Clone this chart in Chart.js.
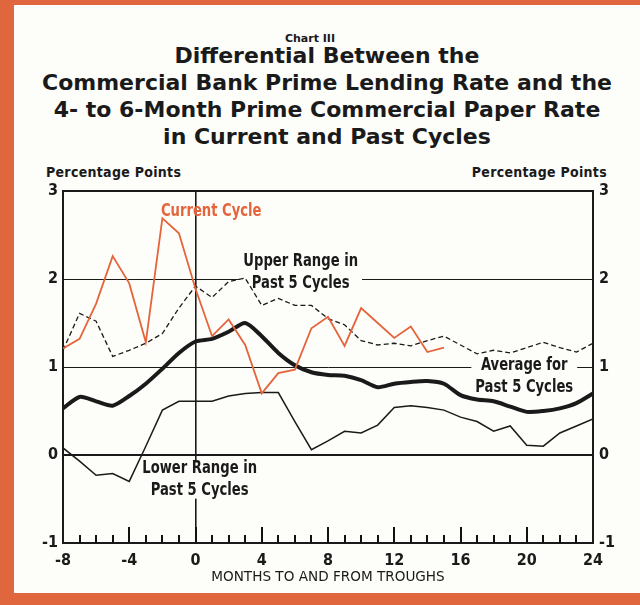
<!DOCTYPE html>
<html>
<head>
<meta charset="utf-8">
<script src="https://cdn.jsdelivr.net/npm/chart.js@4.4.0/dist/chart.umd.min.js"></script>
<style>
  html, body { margin: 0; padding: 0; }
  body { width: 640px; height: 605px; background: #e0673d; position: relative; overflow: hidden; }
  #page { position: absolute; left: 14px; top: 5px; width: 626px; height: 588px; background: #fdfdfa; }
  .t { position: absolute; left: 0; width: 654px; text-align: center; color: #1a1a1a; white-space: nowrap;
       font-family: 'DejaVu Sans', sans-serif; font-weight: bold; }
  .pp { position: absolute; top: 164px; font-family: 'DejaVu Sans Condensed', sans-serif;
        font-weight: bold; font-size: 14px; letter-spacing: 0.3px; color: #1a1a1a; }
  #wrap { position: absolute; left: 0; top: 0; width: 640px; height: 605px; }
</style>
</head>
<body>
<div id="page"></div>
<div class="t" style="top:32px;width:620px;font-size:11px;">Chart III</div>
<div class="t" style="top:42px;font-size:22px;line-height:27px;">
  Differential Between the<br>
  Commercial Bank Prime Lending Rate and the<br>
  4- to 6-Month Prime Commercial Paper Rate<br>
  in Current and Past Cycles
</div>
<div class="pp" style="left:46px;">Percentage Points</div>
<div class="pp" style="right:33px;">Percentage Points</div>
<div id="wrap"><canvas id="mycanvas" width="640" height="605"></canvas></div>
<script>
// months to and from troughs
var months = [-8,-7,-6,-5,-4,-3,-2,-1,0,1,2,3,4,5,6,7,8,9,10,11,12,13,14,15,16,17,18,19,20,21,22,23,24];
var yTicks = [-1, 0, 1, 2, 3];

// current cycle runs from -8 to 15
var currentCycle = [1.21,1.32,1.72,2.26,1.95,1.28,2.69,2.52,1.89,1.35,1.54,1.25,0.70,0.93,0.97,1.44,1.57,1.24,1.67,1.50,1.33,1.46,1.17,1.22];
var upperRange = [1.19,1.61,1.52,1.12,1.19,1.27,1.38,1.67,1.92,1.79,1.97,2.01,1.70,1.78,1.70,1.70,1.55,1.48,1.30,1.25,1.27,1.24,1.30,1.35,1.25,1.15,1.19,1.16,1.22,1.28,1.22,1.17,1.27];
var average = [0.53,0.66,0.61,0.56,0.67,0.81,0.98,1.16,1.29,1.32,1.40,1.50,1.35,1.16,1.02,0.94,0.91,0.90,0.85,0.77,0.81,0.83,0.84,0.81,0.68,0.63,0.61,0.55,0.49,0.50,0.53,0.59,0.70];
var lowerRange = [0.08,-0.07,-0.23,-0.21,-0.30,0.10,0.51,0.61,0.61,0.61,0.67,0.70,0.71,0.71,0.38,0.06,0.16,0.27,0.25,0.34,0.54,0.56,0.54,0.51,0.43,0.38,0.27,0.33,0.11,0.10,0.25,0.33,0.41];

var ink = '#1a1a1a';
var orange = '#e4653c';
var narrow = "'DejaVu Sans Condensed', sans-serif";
var squeeze = 0.86;

function pts(vals) {
  var out = [];
  for (var i in vals) out.push({x: months[i], y: vals[i]});
  return out;
}

// text notes on the plot
var notes = [
  {lines: ['Current Cycle'], x: 0.95, y: 2.77, color: orange, box: false},
  {lines: ['Upper Range in', 'Past 5 Cycles'], x: 6.35, y: 2.07, color: ink, box: true},
  {lines: ['Average for', 'Past 5 Cycles'], x: 19.85, y: 0.89, color: ink, box: true},
  {lines: ['Lower Range in', 'Past 5 Cycles'], x: 0.25, y: -0.28, color: ink, box: true}
];

var overlay = {
  id: 'overlay',
  beforeDatasetsDraw: function(chart) {
    var c = chart.ctx, xs = chart.scales.x, ys = chart.scales.y;
    c.save();
    c.font = 'bold 17px ' + narrow;
    notes.forEach(function(n) {
      if (!n.box) return;
      var w = 0;
      n.lines.forEach(function(l) { w = Math.max(w, c.measureText(l).width * squeeze); });
      var cx = xs.getPixelForValue(n.x), cy = ys.getPixelForValue(n.y);
      var h = n.lines.length * 21;
      c.fillStyle = '#fdfdfa';
      c.fillRect(cx - w / 2 - 4, cy - h / 2 + 2, w + 8, h - 4);
    });
    c.restore();
  },
  afterDatasetsDraw: function(chart) {
    var c = chart.ctx, xs = chart.scales.x, ys = chart.scales.y;
    c.save();
    c.font = 'bold 17px ' + narrow;
    c.textAlign = 'center';
    c.textBaseline = 'middle';
    notes.forEach(function(n) {
      var cx = xs.getPixelForValue(n.x), cy = ys.getPixelForValue(n.y);
      var top = cy - (n.lines.length - 1) * 11;
      c.fillStyle = n.color;
      n.lines.forEach(function(l, i) {
        c.save();
        c.translate(cx, top + i * 22);
        c.scale(squeeze, 1);
        c.fillText(l, 0, 0);
        c.restore();
      });
    });
    c.restore();
    // month ticks pointing up from the bottom axis
    var bottom = ys.getPixelForValue(-1);
    c.save();
    c.fillStyle = '#111';
    months.forEach(function(m) {
      if (m === -8 || m === 24) return;
      var px = Math.round(xs.getPixelForValue(m));
      var len = (m % 4 === 0) ? 16 : 8;
      c.fillRect(px - 1, bottom - len, 2, len);
    });
    c.restore();
  }
};

var tickFont = {family: narrow, size: 16, weight: 'bold'};

var canvas = document.getElementById('mycanvas');
var LineGraph = new Chart(canvas, {
  type: 'line',
  data: {
    datasets: [
      {label: 'Current Cycle', data: pts(currentCycle), borderColor: orange, borderWidth: 1.8, pointRadius: 0, tension: 0},
      {label: 'Average for Past 5 Cycles', data: pts(average), borderColor: ink, borderWidth: 4, pointRadius: 0, tension: 0.25},
      {label: 'Upper Range in Past 5 Cycles', data: pts(upperRange), borderColor: ink, borderWidth: 1.3, borderDash: [5, 3], pointRadius: 0, tension: 0},
      {label: 'Lower Range in Past 5 Cycles', data: pts(lowerRange), borderColor: ink, borderWidth: 1.5, pointRadius: 0, tension: 0}
    ]
  },
  options: {
    responsive: false,
    animation: false,
    layout: {padding: {left: 13, right: 17, top: 191, bottom: 0}},
    plugins: {legend: {display: false}, tooltip: {enabled: false}},
    scales: {
      x: {
        type: 'linear', min: -8, max: 24,
        afterFit: function(s) { s.height = 62; },
        border: {display: true, color: ink, width: 2},
        grid: {
          drawTicks: false,
          color: function(c) { return c.tick && c.tick.value === 0 ? ink : 'rgba(0,0,0,0)'; },
          lineWidth: 1.6
        },
        ticks: {
          stepSize: 1, autoSkip: false, maxRotation: 0, padding: 8, color: ink, font: tickFont,
          callback: function(v) { return v % 4 === 0 ? String(v) : ''; }
        },
        title: {
          display: true, text: 'MONTHS TO AND FROM TROUGHS', color: ink,
          font: {family: "'DejaVu Sans', sans-serif", size: 13.6}, padding: {top: 0, bottom: 19}
        }
      },
      y: {
        min: -1, max: 3,
        afterFit: function(s) { s.width = 50; },
        afterBuildTicks: function(s) { s.ticks = yTicks.map(function(v) { return {value: v}; }); },
        border: {display: true, color: ink, width: 2},
        grid: {
          drawTicks: false, color: ink,
          lineWidth: function(c) {
            var v = c.tick ? c.tick.value : 0;
            return v === 0 || v === 3 ? 2 : (v === -1 ? 0 : 1);
          }
        },
        ticks: {padding: 5, color: ink, font: tickFont}
      },
      y2: {
        position: 'right', min: -1, max: 3,
        afterFit: function(s) { s.width = 30; },
        afterBuildTicks: function(s) { s.ticks = yTicks.map(function(v) { return {value: v}; }); },
        border: {display: true, color: ink, width: 2},
        grid: {display: false, drawTicks: false},
        ticks: {padding: 6, color: ink, font: tickFont}
      }
    }
  },
  plugins: [overlay]
});
</script>
</body>
</html>
